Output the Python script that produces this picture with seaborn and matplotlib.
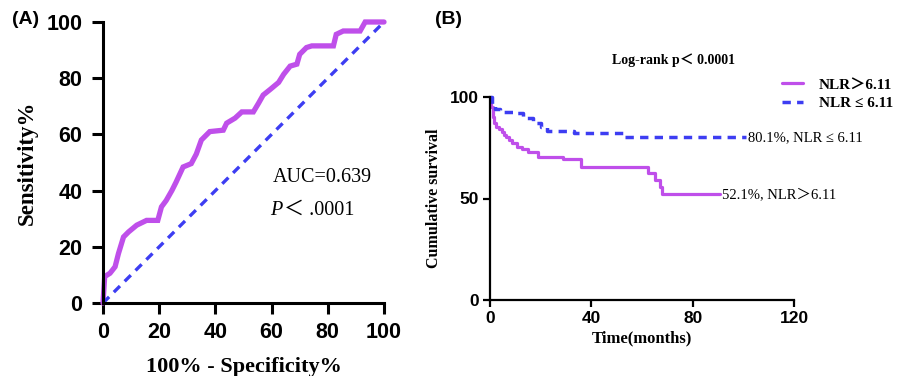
import matplotlib
matplotlib.use("Agg")
import matplotlib.pyplot as plt
import seaborn as sns
import pandas as pd

# ---- Data: ROC (panel A) ----
roc_fpr = [0, 0.6, 2.5, 4.3, 5.5, 7.3, 9.1, 12, 15.5, 19.5, 20.8, 22.5, 24.5, 26, 28.5, 31.4,
           33.2, 35, 38, 42.8, 44, 47, 49.4, 53.5, 55.3, 57, 59.5, 62.5, 64.3, 66.6, 69, 70,
           72.4, 74.3, 82, 83, 85.5, 91.5, 93.3, 100]
roc_tpr = [0, 9.4, 10.6, 12.9, 17.6, 23.5, 25.3, 27.7, 29.4, 29.4, 34.2, 36.5, 40, 43, 48.4, 49.6,
           53, 58, 61, 61.5, 64, 65.8, 68, 68, 71, 74, 76, 78.5, 81.4, 84.3, 85, 88.5,
           90.9, 91.5, 91.5, 95.6, 96.8, 96.8, 100, 100]
ref_line = [0, 100]

# ---- Data: Kaplan-Meier (panel B) ----
km_high_t = [0, 0.5, 1.0, 1.6, 2.5, 3.5, 4.7, 5.5, 6.5, 7.5, 8.5, 10.5, 12.5, 15, 19, 29, 36, 62.5, 65, 67, 68, 90.8]
km_high_s = [100, 95, 90, 87, 85, 84, 82.9, 81.5, 80.2, 79, 77.5, 75.5, 74.3, 73, 70.6, 69.3, 65.7, 62.4, 59.1, 55.8, 52.1, 52.1]
km_low_t = [0, 0.6, 2, 4, 9, 13, 17, 20, 22.4, 33, 52.6, 101]
km_low_s = [100, 95.5, 94, 92.8, 92, 89.5, 87, 85.4, 83.4, 82.4, 80.1, 80.1]

roc_ticks = [0, 20, 40, 60, 80, 100]
km_xticks = [0, 40, 80, 120]
km_yticks = [0, 50, 100]

PURPLE = "#BF4FEA"
BLUE = "#3D3DF2"

sns.set_style("ticks")
plt.rcParams["font.family"] = ["Liberation Serif", "Noto Sans CJK SC", "DejaVu Sans"]
for k in ["text.color", "axes.labelcolor", "xtick.color", "ytick.color", "axes.edgecolor"]:
    plt.rcParams[k] = "black"

fig = plt.figure(figsize=(8.99, 3.76), dpi=100)
axA = fig.add_axes([103/899, 73/376, 281/899, 281/376])
axB = fig.add_axes([490/899, 76/376, 304/899, 203/376])

# ---- Panel A ----
dfr = pd.DataFrame({"fpr": roc_fpr, "tpr": roc_tpr})
sns.lineplot(data=dfr, x="fpr", y="tpr", ax=axA, color=PURPLE, lw=3.8, sort=False,
             estimator=None, clip_on=False, solid_joinstyle="miter")
dfd = pd.DataFrame({"x": ref_line, "y": ref_line})
sns.lineplot(data=dfd, x="x", y="y", ax=axA, color=BLUE, lw=2.4, estimator=None,
             linestyle=(0, (2.6, 2.0)), clip_on=False)
axA.set_xlim(0, 100)
axA.set_ylim(0, 100)
axA.set_xticks(roc_ticks)
axA.set_yticks(roc_ticks)
for lab in axA.get_xticklabels() + axA.get_yticklabels():
    lab.set_fontfamily("Liberation Sans")
    lab.set_fontweight("bold")
    lab.set_fontsize(15.5)
axA.tick_params(axis="y", width=2.2, length=8, direction="out", color="black", pad=7)
axA.tick_params(axis="x", width=2.2, length=8, direction="out", color="black", pad=6)
for s in ["left", "bottom"]:
    axA.spines[s].set_linewidth(2.2)
sns.despine(ax=axA)
axA.set_xlabel("100% - Specificity%", fontsize=16, fontweight="bold", labelpad=10)
axA.set_ylabel("Sensitivity%", fontsize=16.5, fontweight="bold", labelpad=6)
axA.text(60.5, 44.5, "AUC=0.639", fontsize=14.5, va="center", ha="left")
axA.text(59.5, 33, "P", fontsize=14.5, va="center", ha="left", style="italic")
axA.text(64.3, 33, "＜ .0001", fontsize=14.5, va="center", ha="left")
fig.text(12/899, 1 - 20/376, "(A)", fontsize=14, fontweight="bold",
         family="Liberation Sans", va="center", ha="left")

# ---- Panel B ----
dfh = pd.DataFrame({"t": km_high_t, "s": km_high_s})
dfl = pd.DataFrame({"t": km_low_t, "s": km_low_s})
sns.lineplot(data=dfh, x="t", y="s", ax=axB, color=PURPLE, lw=2.3, estimator=None,
             drawstyle="steps-post", clip_on=False, label="NLR＞6.11")
sns.lineplot(data=dfl, x="t", y="s", ax=axB, color=BLUE, lw=2.5, estimator=None,
             drawstyle="steps-post", linestyle=(0, (2.4, 1.8)), clip_on=False, label="NLR ≤ 6.11")
axB.set_xlim(0, 120)
axB.set_ylim(0, 100)
axB.set_xticks(km_xticks)
axB.set_yticks(km_yticks)
for lab in axB.get_xticklabels() + axB.get_yticklabels():
    lab.set_fontfamily("Liberation Sans")
    lab.set_fontweight("bold")
    lab.set_fontsize(12.5)
axB.tick_params(width=1.6, length=5, direction="out", color="black", pad=3)
for s in ["left", "bottom"]:
    axB.spines[s].set_linewidth(1.6)
sns.despine(ax=axB)
axB.set_xlabel("Time(months)", fontsize=12, fontweight="bold", labelpad=3)
axB.set_ylabel("Cumulative survival", fontsize=11.5, fontweight="bold", labelpad=6)
axB.text(102, 80.1, "80.1%, NLR ≤ 6.11", fontsize=10.5, va="center", ha="left")
axB.text(91.5, 52.1, "52.1%, NLR＞6.11", fontsize=10.5, va="center", ha="left")
fig.text(673/899, 1 - 60/376, "Log-rank p＜ 0.0001", fontsize=10, fontweight="bold",
         va="center", ha="center")
fig.text(435/899, 1 - 20/376, "(B)", fontsize=14, fontweight="bold",
         family="Liberation Sans", va="center", ha="left")
axB.get_legend().remove()
h, l = axB.get_legend_handles_labels()
leg = fig.legend(h, l, loc="upper right", bbox_to_anchor=(1.0, 1 - 72/376), frameon=False,
                 handlelength=1.4, handletextpad=1.0, borderaxespad=0, labelspacing=0.3,
                 prop={"size": 11, "weight": "bold", "family": ["Liberation Serif", "Noto Sans CJK SC"]})

fig.savefig("out.png", dpi=100)
